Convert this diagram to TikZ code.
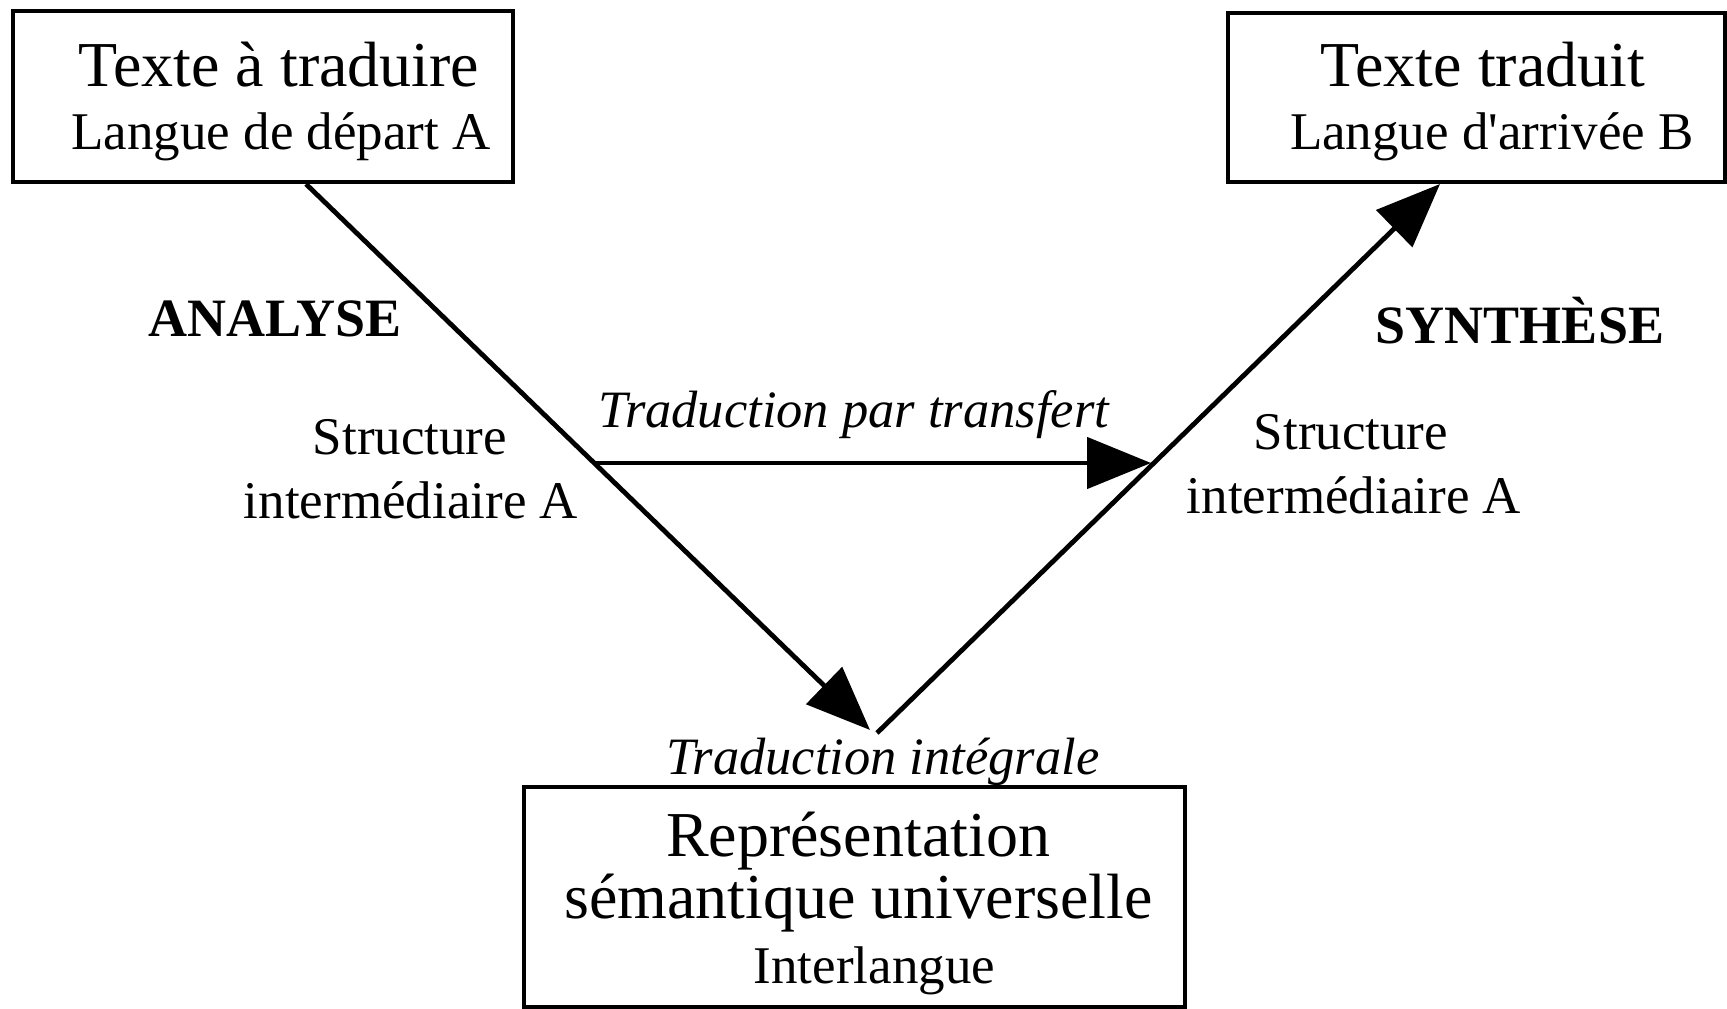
\documentclass[tikz,border=0pt]{standalone}
\usepackage{fontspec}
\setmainfont{Liberation Serif}
\usetikzlibrary{arrows.meta}
\begin{document}
\begin{tikzpicture}[x=1pt,y=-1pt,
  frame/.style={draw, line width=4pt, inner sep=0pt},
  big/.style={anchor=base, inner sep=0pt, font=\fontsize{64}{70}\selectfont},
  small/.style={anchor=base, inner sep=0pt, font=\fontsize{53}{60}\selectfont},
  stage/.style={anchor=base, inner sep=0pt, font=\fontsize{54}{60}\selectfont\bfseries},
  route/.style={anchor=base, inner sep=0pt, font=\fontsize{52.5}{60}\selectfont\itshape},
  flow/.style={line width=4.8pt, -{Triangle[length=64pt, width=51pt]}}]
\useasboundingbox[fill=white] (0,0) rectangle (1727,1009);

% boxes
\node[frame, minimum width=500pt, minimum height=171pt] (src) at (263,96.5) {};
\node[frame, minimum width=497pt, minimum height=169pt] (dst) at (1476.5,97.5) {};
\node[frame, minimum width=661pt, minimum height=220pt] (irep) at (854.5,897) {};

% box texts
\node[big]   (srcA) at (279,86)  {Texte à traduire};
\node[small] (srcB) at (281,149) {Langue de départ A};
\node[big]   (dstA) at (1483,86) {Texte traduit};
\node[small] (dstB) at (1492,149) {Langue d\textquotesingle arrivée B};
\node[big]   (irA)  at (858,856) {Représentation};
\node[big]   (irB)  at (858.5,918) {sémantique universelle};
\node[small] (irC)  at (874.5,983) {Interlangue};

% stage labels
\node[stage] (ana) at (275,336) {ANALYSE};
\node[stage] (syn) at (1520,343) {SYNTHÈSE};
\node[small] (sl1) at (410,454) {Structure};
\node[small] (sl2) at (411,518) {intermédiaire A};
\node[small] (sr1) at (1351,449) {Structure};
\node[small] (sr2) at (1354,513) {intermédiaire A};
\node[route] (tr)  at (854,427) {Traduction par transfert};
\node[route] (ti)  at (883,774) {Traduction intégrale};

% connector end points
\coordinate (aStart) at (306,184);
\coordinate (aEnd)   at (870,730);
\coordinate (sStart) at (877,733);
\coordinate (sEnd)   at (1440,184);
\coordinate (tStart) at (596,463);
\coordinate (tEnd)   at (1151,463);

% connectors
\draw[flow] (aStart) -- (aEnd);
\draw[flow] (sStart) -- (sEnd);
\draw[flow] (tStart) -- (tEnd);
\end{tikzpicture}
\end{document}
